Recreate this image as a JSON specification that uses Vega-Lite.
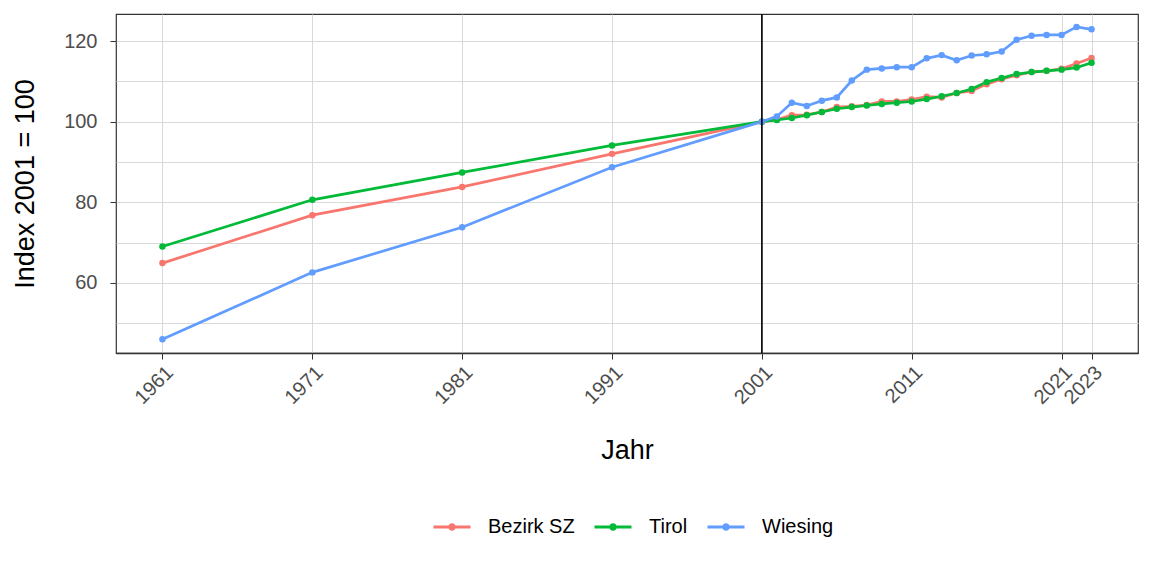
{
  "$schema": "https://vega.github.io/schema/vega-lite/v6.json",
  "width": 1022,
  "height": 339,
  "autosize": {"type": "none"},
  "padding": {"left": 116, "top": 14, "right": 14, "bottom": 223},
  "background": "white",
  "config": {
    "font": "Liberation Sans",
    "view": {"stroke": "#333333", "strokeWidth": 1.2},
    "axis": {"gridColor": "#d9d9d9", "gridWidth": 1, "labelColor": "#4d4d4d", "labelFontSize": 20, "titleFontSize": 27, "titleFontWeight": "normal", "titleColor": "#000000", "tickColor": "#333333", "tickSize": 6, "domain": false}
  },
  "datasets": {
    "main": [
      {"Jahr": 1961, "Gebiet": "Bezirk SZ", "Index": 64.9},
      {"Jahr": 1971, "Gebiet": "Bezirk SZ", "Index": 76.8},
      {"Jahr": 1981, "Gebiet": "Bezirk SZ", "Index": 83.8},
      {"Jahr": 1991, "Gebiet": "Bezirk SZ", "Index": 92.0},
      {"Jahr": 2001, "Gebiet": "Bezirk SZ", "Index": 100},
      {"Jahr": 2002, "Gebiet": "Bezirk SZ", "Index": 100.5},
      {"Jahr": 2003, "Gebiet": "Bezirk SZ", "Index": 101.6},
      {"Jahr": 2004, "Gebiet": "Bezirk SZ", "Index": 101.7},
      {"Jahr": 2005, "Gebiet": "Bezirk SZ", "Index": 102.4},
      {"Jahr": 2006, "Gebiet": "Bezirk SZ", "Index": 103.6},
      {"Jahr": 2007, "Gebiet": "Bezirk SZ", "Index": 103.8},
      {"Jahr": 2008, "Gebiet": "Bezirk SZ", "Index": 104.1},
      {"Jahr": 2009, "Gebiet": "Bezirk SZ", "Index": 105.0},
      {"Jahr": 2010, "Gebiet": "Bezirk SZ", "Index": 105.0},
      {"Jahr": 2011, "Gebiet": "Bezirk SZ", "Index": 105.5},
      {"Jahr": 2012, "Gebiet": "Bezirk SZ", "Index": 106.2},
      {"Jahr": 2013, "Gebiet": "Bezirk SZ", "Index": 106.0},
      {"Jahr": 2014, "Gebiet": "Bezirk SZ", "Index": 107.1},
      {"Jahr": 2015, "Gebiet": "Bezirk SZ", "Index": 107.6},
      {"Jahr": 2016, "Gebiet": "Bezirk SZ", "Index": 109.3},
      {"Jahr": 2017, "Gebiet": "Bezirk SZ", "Index": 110.5},
      {"Jahr": 2018, "Gebiet": "Bezirk SZ", "Index": 111.5},
      {"Jahr": 2019, "Gebiet": "Bezirk SZ", "Index": 112.3},
      {"Jahr": 2020, "Gebiet": "Bezirk SZ", "Index": 112.6},
      {"Jahr": 2021, "Gebiet": "Bezirk SZ", "Index": 113.1},
      {"Jahr": 2022, "Gebiet": "Bezirk SZ", "Index": 114.4},
      {"Jahr": 2023, "Gebiet": "Bezirk SZ", "Index": 115.8},
      {"Jahr": 1961, "Gebiet": "Tirol", "Index": 69.0},
      {"Jahr": 1971, "Gebiet": "Tirol", "Index": 80.6},
      {"Jahr": 1981, "Gebiet": "Tirol", "Index": 87.4},
      {"Jahr": 1991, "Gebiet": "Tirol", "Index": 94.1},
      {"Jahr": 2001, "Gebiet": "Tirol", "Index": 100},
      {"Jahr": 2002, "Gebiet": "Tirol", "Index": 100.4},
      {"Jahr": 2003, "Gebiet": "Tirol", "Index": 100.9},
      {"Jahr": 2004, "Gebiet": "Tirol", "Index": 101.6},
      {"Jahr": 2005, "Gebiet": "Tirol", "Index": 102.4},
      {"Jahr": 2006, "Gebiet": "Tirol", "Index": 103.2},
      {"Jahr": 2007, "Gebiet": "Tirol", "Index": 103.6},
      {"Jahr": 2008, "Gebiet": "Tirol", "Index": 104.0},
      {"Jahr": 2009, "Gebiet": "Tirol", "Index": 104.4},
      {"Jahr": 2010, "Gebiet": "Tirol", "Index": 104.7},
      {"Jahr": 2011, "Gebiet": "Tirol", "Index": 105.0},
      {"Jahr": 2012, "Gebiet": "Tirol", "Index": 105.6},
      {"Jahr": 2013, "Gebiet": "Tirol", "Index": 106.3},
      {"Jahr": 2014, "Gebiet": "Tirol", "Index": 107.1},
      {"Jahr": 2015, "Gebiet": "Tirol", "Index": 108.1},
      {"Jahr": 2016, "Gebiet": "Tirol", "Index": 109.8},
      {"Jahr": 2017, "Gebiet": "Tirol", "Index": 110.8},
      {"Jahr": 2018, "Gebiet": "Tirol", "Index": 111.8},
      {"Jahr": 2019, "Gebiet": "Tirol", "Index": 112.3},
      {"Jahr": 2020, "Gebiet": "Tirol", "Index": 112.6},
      {"Jahr": 2021, "Gebiet": "Tirol", "Index": 112.9},
      {"Jahr": 2022, "Gebiet": "Tirol", "Index": 113.4},
      {"Jahr": 2023, "Gebiet": "Tirol", "Index": 114.6},
      {"Jahr": 1961, "Gebiet": "Wiesing", "Index": 46.0},
      {"Jahr": 1971, "Gebiet": "Wiesing", "Index": 62.6},
      {"Jahr": 1981, "Gebiet": "Wiesing", "Index": 73.8},
      {"Jahr": 1991, "Gebiet": "Wiesing", "Index": 88.7},
      {"Jahr": 2001, "Gebiet": "Wiesing", "Index": 100},
      {"Jahr": 2002, "Gebiet": "Wiesing", "Index": 101.3},
      {"Jahr": 2003, "Gebiet": "Wiesing", "Index": 104.7},
      {"Jahr": 2004, "Gebiet": "Wiesing", "Index": 103.9},
      {"Jahr": 2005, "Gebiet": "Wiesing", "Index": 105.2},
      {"Jahr": 2006, "Gebiet": "Wiesing", "Index": 106.0},
      {"Jahr": 2007, "Gebiet": "Wiesing", "Index": 110.2},
      {"Jahr": 2008, "Gebiet": "Wiesing", "Index": 112.9},
      {"Jahr": 2009, "Gebiet": "Wiesing", "Index": 113.2},
      {"Jahr": 2010, "Gebiet": "Wiesing", "Index": 113.5},
      {"Jahr": 2011, "Gebiet": "Wiesing", "Index": 113.5},
      {"Jahr": 2012, "Gebiet": "Wiesing", "Index": 115.7},
      {"Jahr": 2013, "Gebiet": "Wiesing", "Index": 116.5},
      {"Jahr": 2014, "Gebiet": "Wiesing", "Index": 115.2},
      {"Jahr": 2015, "Gebiet": "Wiesing", "Index": 116.4},
      {"Jahr": 2016, "Gebiet": "Wiesing", "Index": 116.7},
      {"Jahr": 2017, "Gebiet": "Wiesing", "Index": 117.4},
      {"Jahr": 2018, "Gebiet": "Wiesing", "Index": 120.3},
      {"Jahr": 2019, "Gebiet": "Wiesing", "Index": 121.3},
      {"Jahr": 2020, "Gebiet": "Wiesing", "Index": 121.5},
      {"Jahr": 2021, "Gebiet": "Wiesing", "Index": 121.5},
      {"Jahr": 2022, "Gebiet": "Wiesing", "Index": 123.5},
      {"Jahr": 2023, "Gebiet": "Wiesing", "Index": 122.9}
    ],
    "vline": [{"Jahr": 2001}]
  },
  "layer": [
    {
      "data": {"name": "main"},
      "mark": {"type": "line", "strokeWidth": 2.7},
      "encoding": {
        "x": {"field": "Jahr", "type": "quantitative", "scale": {"domain": [1957.9, 2026.1], "nice": false, "zero": false},
          "axis": {"values": [1961, 1971, 1981, 1991, 2001, 2011, 2021, 2023], "format": "d", "labelAngle": -45, "labelAlign": "right", "labelBaseline": "top", "labelPadding": 3, "labelOverlap": false, "labelBound": false, "title": "Jahr", "titlePadding": 30, "domain": true, "domainColor": "#333333", "domainWidth": 1.5}},
        "y": {"field": "Index", "type": "quantitative", "scale": {"domain": [42.6, 126.7], "nice": false, "zero": false},
          "axis": {"values": [50, 60, 70, 80, 90, 100, 110, 120], "labelExpr": "datum.value % 20 == 0 ? datum.label : ''", "tickColor": {"condition": {"test": "datum.value % 20 == 0", "value": "#333333"}, "value": "transparent"}, "labelPadding": 13, "title": "Index 2001 = 100", "titlePadding": 24}},
        "color": {"field": "Gebiet", "type": "nominal",
          "scale": {"domain": ["Bezirk SZ", "Tirol", "Wiesing"], "range": ["#F8766D", "#00BA38", "#619CFF"]},
          "legend": {"title": null, "orient": "none", "direction": "horizontal", "legendX": 316, "legendY": 493,
            "symbolType": "M-1,0H1M-0.12,0A0.12,0.12 0 1,0 0.12,0A0.12,0.12 0 1,0 -0.12,0", "symbolSize": 1369, "symbolStrokeWidth": 3, "labelFontSize": 20, "labelColor": "#000000", "labelOffset": 16, "columnPadding": 13}}
      }
    },
    {
      "data": {"name": "main"},
      "mark": {"type": "point", "filled": true, "size": 42, "opacity": 1},
      "encoding": {
        "x": {"field": "Jahr", "type": "quantitative"},
        "y": {"field": "Index", "type": "quantitative"},
        "color": {"field": "Gebiet", "type": "nominal"}
      }
    },
    {
      "data": {"name": "vline"},
      "mark": {"type": "rule", "color": "#000000", "strokeWidth": 1.6},
      "encoding": {"x": {"field": "Jahr", "type": "quantitative"}}
    }
  ]
}
